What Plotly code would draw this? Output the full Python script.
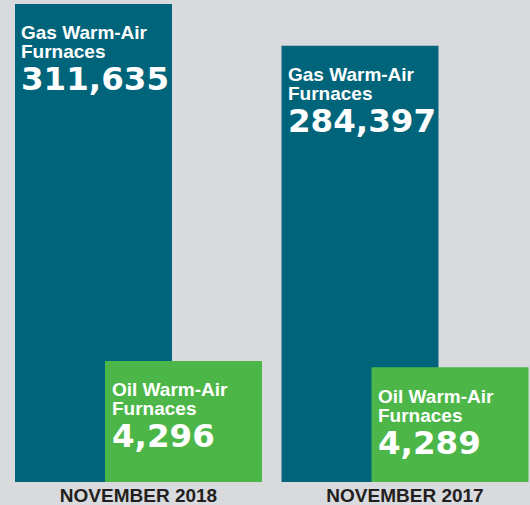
import plotly.graph_objects as go

# ---- data ----
categories = ["NOVEMBER 2018", "NOVEMBER 2017"]
gas_values = [311635, 284397]
oil_values = [4296, 4289]
gas_label = ["Gas Warm-Air", "Furnaces"]
oil_label = ["Oil Warm-Air", "Furnaces"]

# ---- styles ----
BG = "#d8dadd"
GAS = "#00657b"
OIL = "#4cb748"
DARK = "#231f20"
LABEL_FONT = dict(family="Liberation Sans", size=19, color="white", weight="bold")
NUM_FONT = dict(family="DejaVu Sans", size=32.5, color="white", weight="bold")

BAR_W = 0.589
GAS_OFF = -0.4634
OIL_OFF = -0.1257

fig = go.Figure()
fig.add_trace(go.Bar(x=categories, y=gas_values, marker=dict(color=GAS, line=dict(width=0)),
                     width=BAR_W, offset=GAS_OFF, yaxis="y", hoverinfo="skip"))
fig.add_trace(go.Bar(x=categories, y=oil_values, marker=dict(color=OIL, line=dict(width=0)),
                     width=BAR_W, offset=OIL_OFF, yaxis="y2", hoverinfo="skip"))

annotations = []
def add_text(cat, val, yref, x_px, lines):
    shifts = [-18.4, -37.4]
    for line, ys in zip(lines, shifts):
        annotations.append(dict(x=cat, y=val, xref="x", yref=yref, text=line, showarrow=False,
                                xanchor="left", yanchor="top", xshift=x_px, yshift=ys,
                                font=LABEL_FONT, borderpad=0, borderwidth=0))
    annotations.append(dict(x=cat, y=val, xref="x", yref=yref, text=f"{val:,}", showarrow=False,
                            xanchor="left", yanchor="top", xshift=x_px, yshift=-56.2,
                            font=NUM_FONT, borderpad=0, borderwidth=0))

for c, g, o in zip(categories, gas_values, oil_values):
    add_text(c, g, "y", -117.5, gas_label)
    add_text(c, o, "y2", -27.0, oil_label)

fig.update_layout(
    width=530, height=505,
    margin=dict(l=0, r=0, t=0, b=23),
    paper_bgcolor=BG, plot_bgcolor=BG,
    barmode="overlay",
    showlegend=False,
    annotations=annotations,
    xaxis=dict(range=[-0.5197, 1.469], showgrid=False, zeroline=False, showline=False,
               ticks="", tickfont=dict(family="Liberation Sans", size=19, color=DARK, weight="bold")),
    yaxis=dict(range=[0, 314243], visible=False, showgrid=False, zeroline=False),
    yaxis2=dict(range=[4161.6, 4697], visible=False, overlaying="y", showgrid=False, zeroline=False),
)

fig.write_html("out.html", config={"displayModeBar": False},
               post_script="document.body.style.margin='0';document.body.style.overflow='hidden';")
